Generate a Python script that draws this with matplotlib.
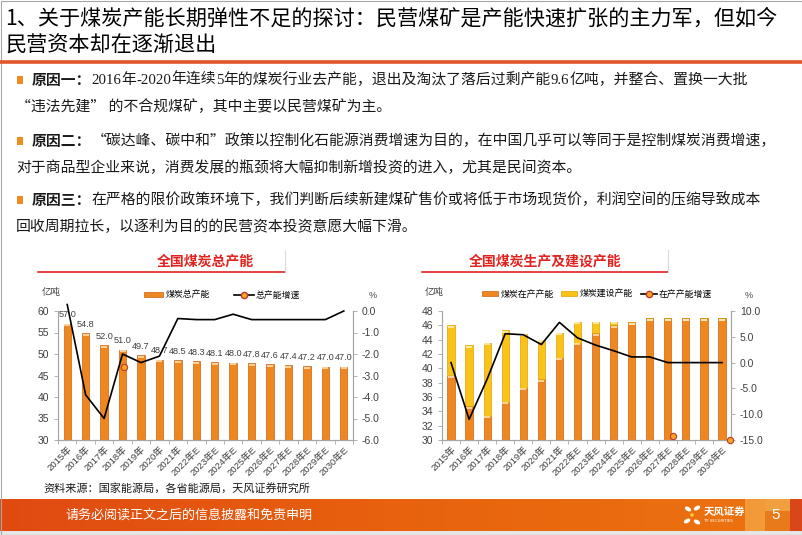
import numpy as np
import matplotlib.pyplot as plt
from matplotlib.patches import Rectangle, Ellipse, Patch
from matplotlib.lines import Line2D
from matplotlib.colors import LinearSegmentedColormap

plt.rcParams['font.family'] = ['Noto Sans CJK SC', 'DejaVu Sans']

# ---------------- data ----------------
years = ['2015年', '2016年', '2017年', '2018年', '2019年', '2020年', '2021年',
         '2022年E', '2023年E', '2024年E', '2025年E', '2026年E', '2027年E',
         '2028年E', '2029年E', '2030年E']

total_capacity = [57.0, 54.8, 52.0, 51.0, 49.7, 48.7, 48.5, 48.3, 48.1, 48.0,
                  47.8, 47.6, 47.4, 47.2, 47.0, 47.0]
total_growth = [0.3, -3.9, -5.0, -2.0, -2.4, -2.1, -0.35, -0.4, -0.4, -0.15,
                -0.4, -0.4, -0.4, -0.4, -0.4, 0.0]

in_production = [39.0, 34.7, 33.4, 35.3, 37.3, 38.5, 41.5, 43.6, 44.9, 46.0,
                 46.4, 47.0, 47.0, 47.0, 47.0, 47.0]
under_construction = [7.0, 8.5, 10.2, 10.0, 7.5, 5.5, 3.5, 2.9, 1.6, 0.5,
                      0.0, 0.0, 0.0, 0.0, 0.0, 0.0]
production_growth = [0.0, -11.0, -3.2, 5.6, 5.4, 3.5, 7.8, 4.8, 3.4, 2.3,
                     1.1, 1.1, 0.0, 0.0, 0.0, 0.0]

# stray legend markers left on the original slide
left_marker = (3.1, -2.6)
right_markers = [(12.3, -14.2), (15.45, -15.0)]

title_lines = ['1、关于煤炭产能长期弹性不足的探讨：民营煤矿是产能快速扩张的主力军，但如今',
               '民营资本却在逐渐退出']

ORANGE = '#F0861E'
YELLOW = '#FBC21A'
TXT = '#1a1a1a'
NUM = ['Liberation Sans', 'Noto Sans CJK SC']

W, H = 802, 535
fig = plt.figure(figsize=(W / 100, H / 100), dpi=100)
bg = fig.add_axes([0, 0, 1, 1])
bg.set_xlim(0, W)
bg.set_ylim(H, 0)
bg.axis('off')

# frame
bg.add_patch(Rectangle((0.5, 0.5), W - 1, H - 1, fill=False, ec='#A6A6A6', lw=0.8))

# title
bg.text(5, 18, title_lines[0], fontsize=15.2, color='black', va='center')
bg.text(5, 46, title_lines[1], fontsize=15.2, color='black', va='center')
bg.plot([0, W], [61.5, 61.5], color='#E1552B', lw=2.6, solid_capstyle='butt')

renderer = fig.canvas.get_renderer()


def runs(x, y, parts, size=10.7):
    for s, kw in parts:
        t = bg.text(x, y, s, fontsize=size, va='center', ha='left', color=TXT, **kw)
        bb = t.get_window_extent(renderer)
        x = bg.transData.inverted().transform((bb.x1, bb.y0))[0]


B = dict(fontweight='bold')
C = dict()
S = dict(family='Liberation Serif')

for yb in (80, 141, 200):
    bg.add_patch(Rectangle((17, yb - 4), 6, 8, color='#F08C1E', lw=0))

runs(32, 80, [('原因一：', B), ('2016', S), ('年', C), ('-2020', S), ('年连续', C),
              ('5', S), ('年的煤炭行业去产能，退出及淘汰了落后过剩产能', C),
              ('9.6', S), ('亿吨，并整合、置换一大批', C)])
runs(16, 107, [('“违法先建” 的不合规煤矿，其中主要以民营煤矿为主。', C)])
runs(32, 141, [('原因二：', B),
               ('“碳达峰、碳中和”政策以控制化石能源消费增速为目的，在中国几乎可以等同于是控制煤炭消费增速，', C)])
runs(16, 168, [('对于商品型企业来说，消费发展的瓶颈将大幅抑制新增投资的进入，尤其是民间资本。', C)])
runs(32, 200, [('原因三：', B),
               ('在严格的限价政策环境下，我们判断后续新建煤矿售价或将低于市场现货价，利润空间的压缩导致成本', C)])
runs(16, 227, [('回收周期拉长，以逐利为目的的民营资本投资意愿大幅下滑。', C)])

# chart panel titles
for x0, x1, cx, label in [(38, 285, 205, '全国煤炭总产能'), (422, 668, 545, '全国煤炭生产及建设产能')]:
    bg.plot([x0, x1], [272, 272], color='#E0231F', lw=1.2)
    bg.plot([x1, x1], [250, 272], color='#D9D9D9', lw=0.8)
    bg.text(cx, 262, label, fontsize=10, color='#E0231F', ha='center', va='center', fontweight='bold')

x = np.arange(len(years))


def style_axes(ax, ax2):
    for a in (ax, ax2):
        a.spines['top'].set_visible(False)
        for s in ('left', 'right', 'bottom'):
            a.spines[s].set_color('#A6A6A6')
            a.spines[s].set_linewidth(0.8)
        a.tick_params(colors='#A6A6A6', labelcolor='#404040', length=3, width=0.6, labelsize=7.5)
    ax.set_xlim(-0.5, len(years) - 0.5)
    ax.set_xticks(x)
    ax.set_xticklabels(years, rotation=45, ha='right', rotation_mode='anchor', fontsize=6.8, family=NUM)
    for lab in ax.get_yticklabels() + ax2.get_yticklabels():
        lab.set_family(NUM)
    ax.set_xticks(np.arange(-0.5, len(years)), minor=True)
    ax.tick_params(axis='x', which='major', length=0)
    ax.tick_params(axis='x', which='minor', length=3, color='#A6A6A6')


# ---------------- left chart ----------------
ax = fig.add_axes([58 / W, 1 - 440 / H, 295 / W, 129 / H])
ax.patch.set_alpha(0)
ax.bar(x, total_capacity, width=0.4, color=ORANGE, edgecolor='#C9641A', lw=0.5, zorder=2)
ax.plot(x, np.array(total_capacity) - 0.35, ls='none', marker='_', ms=4, mew=1.2, color='#FDE2B0', zorder=3)
ax.set_ylim(30, 60)
ax.set_yticks(range(30, 61, 5))
for i, v in enumerate(total_capacity):
    ax.text(i, v + 2.1, f'{v:.1f}', ha='center', va='center', fontsize=6.6, color='#404040', family=NUM)
ax2 = ax.twinx()
ax2.plot(x, total_growth, color='black', lw=1.2, clip_on=False, zorder=4)
ax2.plot(*left_marker, marker='o', ms=4.5, mfc='#F6A623', mec='#C0392B', mew=0.8, clip_on=False)
ax2.set_ylim(-6, 0)
ax2.set_yticks(np.arange(-6, 0.1, 1))
ax2.set_yticklabels([f'{v:.1f}' for v in np.arange(-6, 0.1, 1)])
style_axes(ax, ax2)

bg.text(42, 293, '亿吨', fontsize=6.8, color='#404040', va='center')
bg.text(369, 295, '%', fontsize=6.5, color='#404040', va='center', family=NUM)
h1 = [Patch(fc=ORANGE, ec='#C9641A', lw=0.5),
      Line2D([], [], color='black', lw=1.2, marker='o', ms=4.5, mfc='#F6A623', mec='#C0392B')]
ax.legend(h1, ['煤炭总产能', '总产能增速'], ncol=2, frameon=False, fontsize=6.4,
          loc='center', bbox_to_anchor=(222, 295), bbox_transform=bg.transData,
          handlelength=2.2, handleheight=0.5, columnspacing=2.8, handletextpad=0.2)

# ---------------- right chart ----------------
bx = fig.add_axes([442 / W, 1 - 440 / H, 289 / W, 129 / H])
bx.patch.set_alpha(0)
bx.bar(x, in_production, width=0.4, color=ORANGE, edgecolor='#C9641A', lw=0.5, zorder=2)
bx.bar(x, under_construction, width=0.4, bottom=in_production, color=YELLOW,
       edgecolor='#D9A400', lw=0.5, zorder=2)
bx.plot(x, np.array(in_production) - 0.2, ls='none', marker='_', ms=4, mew=1.2, color='#FDE2B0', zorder=3)
tops = np.array(in_production) + np.array(under_construction)
bx.plot(x, tops - 0.2, ls='none', marker='_', ms=4, mew=1.2, color='#FFF0C0', zorder=3)
bx.set_ylim(30, 48)
bx.set_yticks(range(30, 49, 2))
bx2 = bx.twinx()
bx2.plot(x, production_growth, color='black', lw=1.2, zorder=4)
for mx, my in right_markers:
    bx2.plot(mx, my, marker='o', ms=4.5, mfc='#F6A623', mec='#C0392B', mew=0.8, clip_on=False, zorder=5)
bx2.set_ylim(-15, 10)
bx2.set_yticks(np.arange(-15, 10.1, 5))
bx2.set_yticklabels([f'{v:.1f}' for v in np.arange(-15, 10.1, 5)])
style_axes(bx, bx2)

bg.text(425, 293, '亿吨', fontsize=6.8, color='#404040', va='center')
bg.text(745, 295, '%', fontsize=6.5, color='#404040', va='center', family=NUM)
h2 = [Patch(fc=ORANGE, ec='#C9641A', lw=0.5), Patch(fc=YELLOW, ec='#D9A400', lw=0.5),
      Line2D([], [], color='black', lw=1.2, marker='o', ms=4.5, mfc='#F6A623', mec='#C0392B')]
bx.legend(h2, ['煤炭在产产能', '煤炭建设产能', '在产产能增速'], ncol=3, frameon=False, fontsize=6.4,
          loc='center', bbox_to_anchor=(597, 294), bbox_transform=bg.transData,
          handlelength=1.8, handleheight=0.5, columnspacing=0.9, handletextpad=0.2)

# source
bg.text(43, 488, '资料来源：国家能源局，各省能源局，天风证券研究所', fontsize=8, color=TXT, va='center')

# ---------------- footer ----------------
grad = np.linspace(0, 1, 256)[None, :]
cm = LinearSegmentedColormap.from_list('f', ['#E04A12', '#E8620E', '#EC7410'])
bg.imshow(grad, cmap=cm, extent=(0, W, 531, 499), aspect='auto', zorder=0)
bg.add_patch(Rectangle((0, 531), W, 4, color='#E6E6E6', lw=0, zorder=0))
for rx, rw, rc in [(745, 20, '#F29A3A'), (765, 25, '#E87A1C'), (790, 12, '#D8461A')]:
    bg.add_patch(Rectangle((rx, 499), rw, 32, color=rc, lw=0, zorder=1))
bg.add_patch(Rectangle((765, 499), 25, 12, color='#F0A040', lw=0, zorder=1))
bg.text(65, 515, '请务必阅读正文之后的信息披露和免责申明', fontsize=9.4, color='white', va='center')
bg.text(776, 515, '5', fontsize=11, color='white', va='center', ha='center', family=NUM)

# logo
for ex, ey, ew, eh, ang, col in [(688, 509, 7, 4, 30, 'white'), (697, 508, 7, 4, -30, 'white'),
                                 (687, 521, 7, 4, -30, 'white'), (697, 522, 7, 4, 30, 'white'),
                                 (692, 515, 3.5, 3.5, 0, '#F7D03A')]:
    bg.add_patch(Ellipse((ex, ey), ew, eh, angle=ang, color=col, lw=0, zorder=2))
bg.text(704, 512, '天风证券', fontsize=7.5, color='white', va='center', fontweight='bold')
bg.text(704, 521, 'TF SECURITIES', fontsize=2.8, color='white', va='center', family='DejaVu Sans')

fig.savefig('out.png', dpi=100)
